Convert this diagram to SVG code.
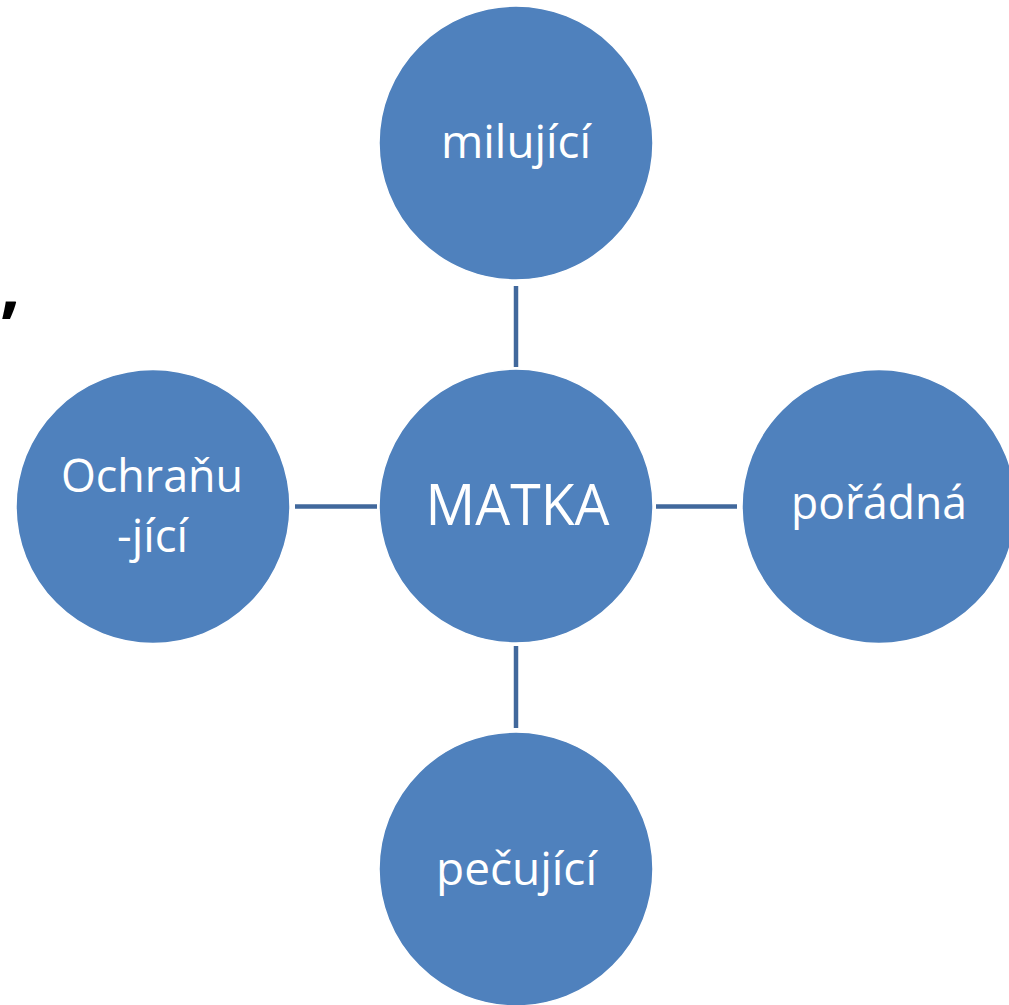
<svg xmlns="http://www.w3.org/2000/svg" width="1009" height="1005" viewBox="0 0 1009 1005">
<style>
.node{fill:#4F81BD;stroke:#ffffff;stroke-width:1.5}
.lbl{fill:#ffffff;font-family:"Open Sans","Noto Sans","DejaVu Sans",sans-serif;text-anchor:middle}
.conn{stroke:#41689C;stroke-width:4.5;fill:none}
</style>
<rect x="0" y="0" width="1009" height="1005" fill="#ffffff"/>
<text x="0" y="310" font-family="'Open Sans','DejaVu Sans',sans-serif" font-weight="bold" font-size="72" fill="#000000">,</text>
<g id="connectors">
<line class="conn" x1="516" y1="286" x2="516" y2="367"/>
<line class="conn" x1="516" y1="646" x2="516" y2="728"/>
<line class="conn" x1="295" y1="506.5" x2="377" y2="506.5"/>
<line class="conn" x1="656" y1="506.5" x2="737" y2="506.5"/>
</g>
<g id="node-matka">
<circle class="node" cx="516" cy="506" r="137"/>
<text class="lbl" x="517.5" y="525" font-size="57" textLength="184" lengthAdjust="spacingAndGlyphs">MATKA</text>
</g>
<g id="node-milujici">
<circle class="node" cx="516" cy="143" r="137"/>
<text class="lbl" x="516" y="158" font-size="45" textLength="150" lengthAdjust="spacingAndGlyphs">milující</text>
</g>
<g id="node-pecujici">
<circle class="node" cx="516" cy="869" r="137"/>
<text class="lbl" x="516.5" y="885" font-size="45" textLength="161" lengthAdjust="spacingAndGlyphs">pečující</text>
</g>
<g id="node-ochranujici">
<circle class="node" cx="153" cy="506.5" r="137"/>
<text class="lbl" x="152" y="492" font-size="45" textLength="182" lengthAdjust="spacingAndGlyphs">Ochraňu</text>
<text class="lbl" x="152.5" y="552" font-size="45" textLength="71" lengthAdjust="spacingAndGlyphs">-jící</text>
</g>
<g id="node-poradna">
<circle class="node" cx="879" cy="506.5" r="137"/>
<text class="lbl" x="879" y="519" font-size="45" textLength="176" lengthAdjust="spacingAndGlyphs">pořádná</text>
</g>
</svg>
